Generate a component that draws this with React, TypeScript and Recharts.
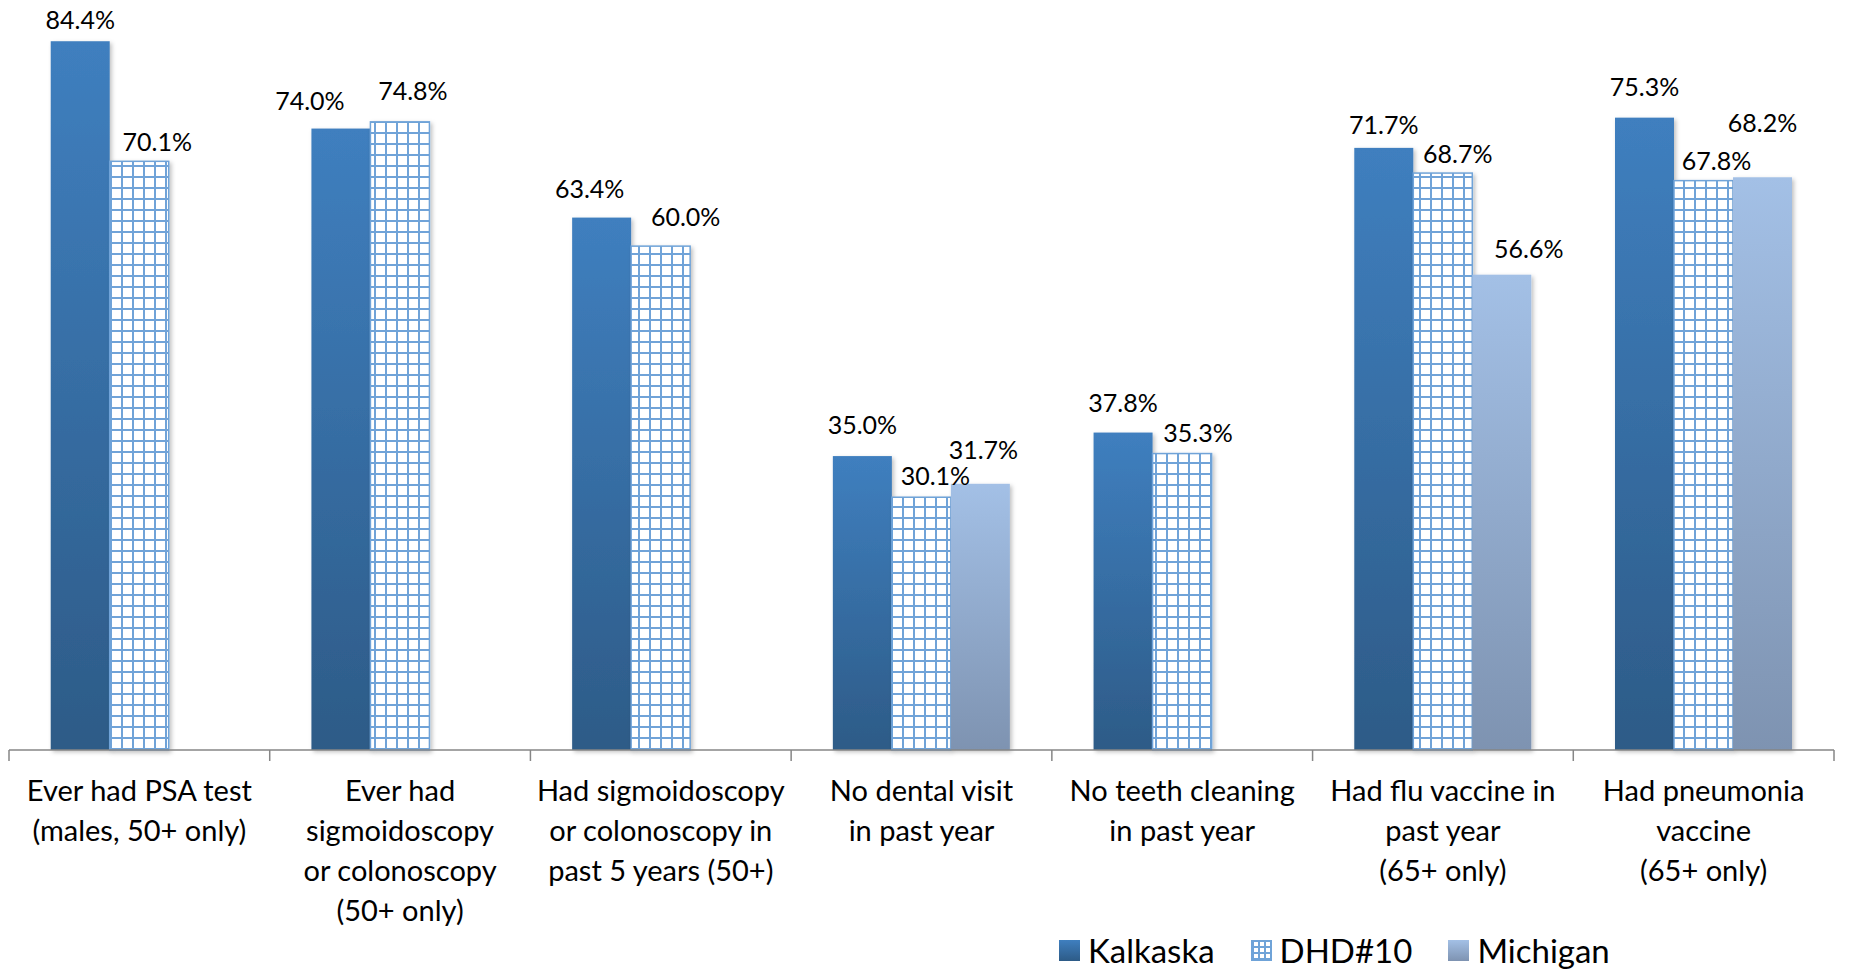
import { BarChart, Bar, XAxis, YAxis, LabelList } from 'recharts';

// category labels, already split into lines as in the original
const categories: string[][] = [
  ['Ever had PSA test', '(males, 50+ only)'],
  ['Ever had', 'sigmoidoscopy', 'or colonoscopy', '(50+ only)'],
  ['Had sigmoidoscopy', 'or colonoscopy in', 'past 5 years (50+)'],
  ['No dental visit', 'in past year'],
  ['No teeth cleaning', 'in past year'],
  ['Had flu vaccine in', 'past year', '(65+ only)'],
  ['Had pneumonia', 'vaccine', '(65+ only)'],
];

const kalkaska = [84.4, 74.0, 63.4, 35.0, 37.8, 71.7, 75.3];
const dhd10 = [70.1, 74.8, 60.0, 30.1, 35.3, 68.7, 67.8];
const michigan: (number | null)[] = [null, null, null, 31.7, null, 56.6, 68.2];

const seriesNames = ['Kalkaska', 'DHD#10', 'Michigan'];

const data = categories.map((lines, i) => ({
  name: lines.join(' '),
  kalkaska: kalkaska[i],
  dhd10: dhd10[i],
  michigan: michigan[i],
}));

const W = 1849;
const H = 970;
const FONT = 'Lato, "Open Sans", sans-serif';
const margin = { top: 11, right: 15, left: 9, bottom: 0 };
const band = (W - margin.left - margin.right) / categories.length;

// hand nudges for the data labels (the source had some labels dragged around)
const labelNudge: Record<string, { dx: number[]; dy: number[] }> = {
  kalkaska: { dx: [0, -31, -12, 0, 0, 0, 0], dy: [0, -7, -8, -10, -9, -2, -10] },
  dhd10: { dx: [18, 13, 25, 14, 16, 15, 13], dy: [2, -10, -8, 0, 0, 2, 1] },
  michigan: { dx: [0, 0, 0, 3, 0, 27, 0], dy: [0, 0, 0, -13, 0, -5, -33] },
};

const makeLabel = (key: string) => (props: any) => {
  const { x, y, width, value } = props;
  if (value == null) return null;
  // work out which category this bar sits in from its position
  const cat = Math.max(0, Math.min(categories.length - 1, Math.floor((x + width / 2 - margin.left) / band)));
  const n = labelNudge[key];
  return (
    <text
      x={x + width / 2 + n.dx[cat]}
      y={y - 12 + n.dy[cat]}
      textAnchor="middle"
      fontFamily={FONT}
      fontSize={25}
      fill="#000"
    >
      {Number(value).toFixed(1)}%
    </text>
  );
};

const makeShape = (fill: string, stroke?: string) => (props: any) => {
  const { x, y, width, height } = props;
  if (!height || height <= 0) return <g />;
  return (
    <rect
      x={x}
      y={y}
      width={width}
      height={height}
      fill={fill}
      stroke={stroke || 'none'}
      strokeWidth={stroke ? 1.5 : 0}
      filter="url(#barShadow)"
    />
  );
};

const CategoryTick = (props: any) => {
  const { x, y, payload, index } = props;
  const i = payload.index ?? index;
  const lines = categories[i] || [];
  const last = i === categories.length - 1;
  return (
    <g>
      <line x1={x - band / 2} y1={y} x2={x - band / 2} y2={y + 11} stroke="#868686" strokeWidth={1.5} />
      {last && (
        <line x1={x + band / 2} y1={y} x2={x + band / 2} y2={y + 11} stroke="#868686" strokeWidth={1.5} />
      )}
      <text x={x} y={y + 51} textAnchor="middle" fontFamily={FONT} fontSize={29} fill="#000">
        {lines.map((l, k) => (
          <tspan key={k} x={x} dy={k === 0 ? 0 : 40}>
            {l}
          </tspan>
        ))}
      </text>
    </g>
  );
};

const gridBg =
  'repeating-linear-gradient(0deg, #6fa3d8 0 2px, transparent 2px 6px), repeating-linear-gradient(90deg, #6fa3d8 0 2px, transparent 2px 6px)';

const legendSwatch = [
  { background: 'linear-gradient(#3f7fbf, #2d5b87)' },
  { backgroundColor: '#fff', backgroundImage: gridBg, border: '1px solid #6fa3d8', boxSizing: 'border-box' as const },
  { background: 'linear-gradient(#a3c0e6, #7e93b1)' },
];

export default function App() {
  return (
    <div style={{ position: 'absolute', left: 0, top: 0, width: W, height: H, background: '#fff' }}>
      <BarChart width={W} height={H} data={data} margin={margin} barGap={0} barCategoryGap="16%">
        <defs>
          <linearGradient id="gKalk" x1="0" y1="0" x2="0" y2="1">
            <stop offset="0%" stopColor="#3f7fbf" />
            <stop offset="100%" stopColor="#2d5b87" />
          </linearGradient>
          <linearGradient id="gMich" x1="0" y1="0" x2="0" y2="1">
            <stop offset="0%" stopColor="#a3c0e6" />
            <stop offset="100%" stopColor="#7e93b1" />
          </linearGradient>
          <pattern id="pGrid" width="11" height="11" patternUnits="userSpaceOnUse">
            <rect width="11" height="11" fill="#fff" />
            <rect x="0" y="0" width="2" height="11" fill="#6fa3d8" />
            <rect x="0" y="0" width="11" height="2" fill="#6fa3d8" />
          </pattern>
          <filter id="barShadow" x="-10%" y="-5%" width="130%" height="115%">
            <feDropShadow dx="2" dy="2" stdDeviation="2" floodColor="#000" floodOpacity="0.25" />
          </filter>
        </defs>
        <XAxis
          dataKey="name"
          interval={0}
          height={220}
          tickSize={0}
          tickMargin={0}
          tick={<CategoryTick />}
          axisLine={{ stroke: '#868686', strokeWidth: 1.5 }}
          tickLine={false}
        />
        <YAxis hide domain={[0, 88]} />
        <Bar dataKey="kalkaska" name={seriesNames[0]} isAnimationActive={false} shape={makeShape('url(#gKalk)')}>
          <LabelList dataKey="kalkaska" content={makeLabel('kalkaska')} />
        </Bar>
        <Bar dataKey="dhd10" name={seriesNames[1]} isAnimationActive={false} shape={makeShape('url(#pGrid)', '#6fa3d8')}>
          <LabelList dataKey="dhd10" content={makeLabel('dhd10')} />
        </Bar>
        <Bar dataKey="michigan" name={seriesNames[2]} isAnimationActive={false} shape={makeShape('url(#gMich)')}>
          <LabelList dataKey="michigan" content={makeLabel('michigan')} />
        </Bar>
      </BarChart>
      <div
        style={{
          position: 'absolute',
          left: 1059,
          top: 929,
          height: 42,
          display: 'flex',
          alignItems: 'center',
          fontFamily: FONT,
          fontSize: 33,
          lineHeight: '42px',
          color: '#000',
        }}
      >
        {seriesNames.map((s, i) => (
          <div key={s} style={{ display: 'flex', alignItems: 'center', marginRight: 36 }}>
            <div style={{ width: 21, height: 21, marginRight: 8, ...legendSwatch[i] }} />
            <span>{s}</span>
          </div>
        ))}
      </div>
    </div>
  );
}
